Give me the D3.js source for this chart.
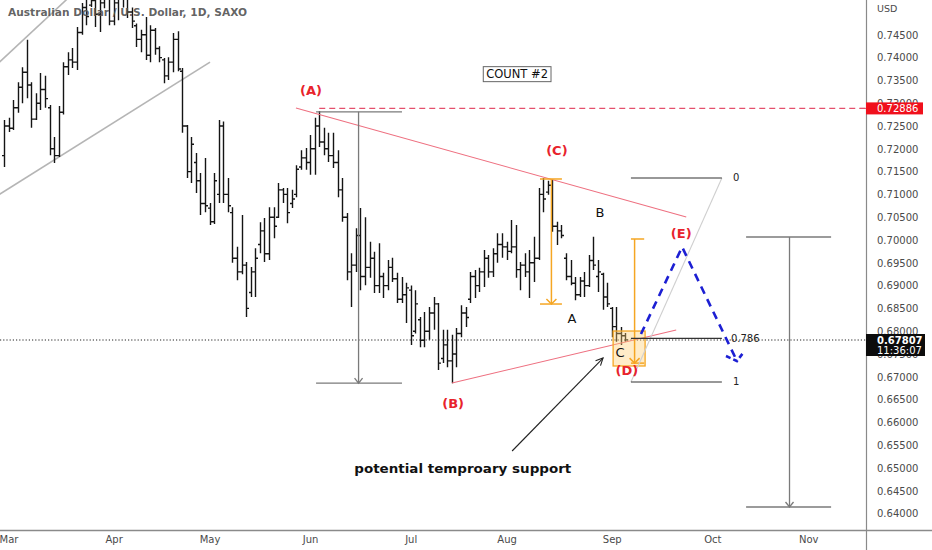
<!DOCTYPE html>
<html><head><meta charset="utf-8">
<script src="https://cdn.jsdelivr.net/npm/d3@7"></script>
<style>html,body{margin:0;padding:0;background:#fff;}svg{display:block;font-family:"DejaVu Sans",Verdana,sans-serif;}</style>
</head><body><svg id="c" width="932" height="550"></svg>
<script>
// ---- data: AUD/USD daily OHLC, trading-day index (0 = 1 Mar) ----
const firstIndex = -1;
const opens  = [.7185,.7250,.7245,.7290,.7335,.7368,.7340,.7265,.7300,.7330,.7290,.7200,.7185,.7280,.7380,.7395,.7390,.7455,.7510,.7515,.7525,.7495,.7520,.7530,.7480,.7520,.7550,.7580,.7500,.7470,.7440,.7450,.7405,.7460,.7420,.7395,.7360,.7390,.7440,.7370,.7250,.7150,.7170,.7130,.7080,.7070,.7040,.7100,.7250,.7100,.7060,.6960,.6930,.6945,.6885,.6930,.6990,.7020,.6970,.7050,.7050,.7110,.7100,.7080,.7100,.7160,.7180,.7170,.7200,.7250,.7215,.7200,.7185,.7170,.7110,.7050,.6930,.6945,.7010,.6920,.6940,.6960,.6900,.6920,.6900,.6940,.6915,.6870,.6880,.6890,.6800,.6825,.6780,.6800,.6840,.6860,.6740,.6770,.6735,.6750,.6795,.6840,.6870,.6920,.6900,.6930,.6960,.6930,.6970,.6990,.6985,.6975,.6985,.6935,.6945,.6930,.6950,.6960,.7100,.7105,.7120,.7030,.7020,.6960,.6920,.6905,.6880,.6910,.6900,.6955,.6920,.6925,.6875,.6850,.6810,.6795,.6790];
const highs  = [.7263,.7268,.7307,.7346,.7379,.7439,.7346,.7322,.7366,.7360,.7296,.7226,.7294,.7390,.7412,.7421,.7467,.7520,.7535,.7545,.7530,.7540,.7550,.7545,.7540,.7560,.7661,.7590,.7510,.7475,.7461,.7489,.7471,.7465,.7425,.7399,.7401,.7454,.7458,.7377,.7252,.7226,.7191,.7147,.7180,.7081,.7147,.7263,.7260,.7136,.7072,.6985,.7055,.6952,.6941,.6982,.7039,.7048,.7072,.7072,.7125,.7114,.7114,.7110,.7164,.7197,.7202,.7230,.7268,.7283,.7246,.7235,.7235,.7197,.7136,.7059,.6971,.7026,.7070,.7050,.6996,.6974,.6993,.6928,.6956,.6961,.6928,.6919,.6906,.6900,.6890,.6831,.6842,.6853,.6875,.6862,.6803,.6803,.6792,.6807,.6857,.6853,.6930,.6934,.6939,.6978,.6967,.6982,.7015,.7015,.6996,.7044,.7033,.6952,.6971,.6978,.7007,.7114,.7136,.7130,.7132,.7040,.7033,.6971,.6956,.6919,.6919,.6930,.6967,.7007,.6956,.6928,.6906,.6853,.6853,.6809,.6796];
const lows   = [.7160,.7237,.7241,.7279,.7300,.7311,.7246,.7263,.7285,.7290,.7186,.7169,.7182,.7275,.7362,.7377,.7373,.7450,.7471,.7511,.7467,.7456,.7508,.7471,.7471,.7482,.7510,.7487,.7465,.7423,.7412,.7395,.7390,.7406,.7390,.7344,.7351,.7368,.7370,.7235,.7136,.7125,.7103,.7055,.7061,.7033,.7035,.7081,.7081,.7061,.6950,.6912,.6925,.6831,.6875,.6875,.6971,.6952,.6956,.7004,.7048,.7081,.7037,.7070,.7094,.7154,.7154,.7143,.7143,.7204,.7186,.7171,.7158,.7094,.7040,.6912,.6853,.6930,.6890,.6901,.6917,.6884,.6884,.6873,.6890,.6908,.6862,.6862,.6818,.6770,.6795,.6765,.6765,.6781,.6803,.6715,.6730,.6721,.6686,.6721,.6787,.6809,.6862,.6873,.6886,.6897,.6917,.6919,.6950,.6961,.6956,.6971,.6917,.6890,.6919,.6873,.6908,.6956,.7061,.7099,.7018,.6989,.7004,.6912,.6901,.6868,.6875,.6875,.6897,.6934,.6886,.6847,.6853,.6787,.6777,.6770,.6777];
const closes = [.7250,.7245,.7290,.7335,.7368,.7340,.7265,.7300,.7330,.7310,.7200,.7185,.7280,.7380,.7395,.7390,.7455,.7510,.7490,.7525,.7495,.7520,.7530,.7480,.7520,.7550,.7580,.7500,.7480,.7440,.7450,.7405,.7460,.7420,.7400,.7360,.7390,.7440,.7375,.7250,.7150,.7210,.7130,.7080,.7075,.7040,.7130,.7250,.7100,.7075,.6960,.6930,.6945,.6850,.6930,.6960,.7020,.6970,.7050,.7030,.7110,.7100,.7060,.7090,.7155,.7180,.7170,.7200,.7250,.7215,.7200,.7185,.7170,.7110,.7050,.6930,.6945,.7010,.6920,.6940,.6960,.6900,.6920,.6900,.6940,.6915,.6870,.6880,.6895,.6790,.6860,.6780,.6800,.6840,.6860,.6730,.6770,.6735,.6750,.6795,.6840,.6830,.6920,.6900,.6930,.6960,.6930,.6970,.6990,.6985,.6975,.6985,.6935,.6945,.6930,.6950,.6960,.7100,.7090,.7120,.7030,.7020,.7010,.6920,.6905,.6880,.6910,.6900,.6955,.6945,.6930,.6875,.6860,.6810,.6795,.6790,.6781];
const lastPrice = 0.67807;
const countdown = "11:36:07";
const markedLevel = 0.72886;

const monthLabels = ["Mar","Apr","May","Jun","Jul","Aug","Sep","Oct","Nov"];
const monthIndex  = [0,23,44,66,88,109,132,154,175];
const priceTicks  = [0.640,0.645,0.650,0.655,0.660,0.665,0.670,0.675,0.680,0.685,0.690,0.695,0.700,0.705,0.710,0.715,0.720,0.725,0.730,0.735,0.740,0.745];

// annotation anchors in data units [trading-day index, price]
const channelUpper = [[-2,0.7390],[13,0.7530]];
const channelLower = [[-2,0.7100],[44.1,0.7390]];
const triangleTop  = [[62.9,0.72895],[148.3,0.70504]];
const triangleBot  = [[97.05,0.66864],[146.1,0.68026]];
const measureA = {i0:67.3,i1:86.1,im:76.6,top:0.7281,bot:0.6686};
const measureR = {i0:161.4,i1:180.0,im:170.9,top:0.70066,bot:0.64145};
const bracketC = {i0:116.3,i1:121.1,im:118.8,top:0.71338,bot:0.68596};
const bracket2 = {i0:136.2,i1:139.1,im:137.0,top:0.70022,bot:0.6730};
const boxD = {i0:132.3,i1:139.3,top:0.68004,bot:0.67237};
const fibLevels = [0,0.786,1];
const fib = {i0:136.2,i1:156.1,p0:0.71360,p1:0.66886};
const bluePath = [[138.4,0.67939],[147.4,0.69846],[159.4,0.67346]];
const blueHead = [[157.0,0.67456],[159.4,0.67346],[160.9,0.67544]];
const supportArrow = [[110.2,0.65373],[130.1,0.67412]];
const waveLabels = [
  {t:"(A)",i:66.2,p:0.7329,red:true},{t:"(C)",i:120.0,p:0.71974,red:true},
  {t:"(B)",i:97.3,p:0.66425,red:true},{t:"(D)",i:135.3,p:0.67149,red:true},
  {t:"(E)",i:147.2,p:0.70154,red:true},
  {t:"B",i:129.4,p:0.70614,red:false},{t:"A",i:123.3,p:0.68289,red:false},{t:"C",i:133.8,p:0.67544,red:false}
];
const countLabel = {t:"COUNT #2",i:111.3,p:0.7364};
const supportLabel = {t:"potential temproary support",i:99.4,p:0.64978};
const title = "Australian Dollar / U.S. Dollar, 1D, SAXO";

// ---- drawing ----
const svg = d3.select("#c");
const PR = 866, PB = 530;
const x = d3.scaleLinear().domain([0,175]).range([8.5,808.25]);
const y = d3.scaleLinear().domain([0.64,0.745]).range([513.6,34.8]);
const P = d => [x(d[0]), y(d[1])];
const line = d3.line().x(d=>x(d[0])).y(d=>y(d[1]));

svg.append("rect").attr("width",932).attr("height",550).attr("fill","#fff");
svg.append("defs").append("clipPath").attr("id","plot").append("rect").attr("width",PR).attr("height",PB);
const g = svg.append("g").attr("clip-path","url(#plot)");

// channel lines
[channelUpper,channelLower].forEach(l=>g.append("path").attr("d",line(l)).attr("fill","none").attr("stroke","#b5b5b5").attr("stroke-width",1.6));

// bars
const bars = opens.map((o,k)=>({i:firstIndex+k,o,h:highs[k],l:lows[k],c:closes[k]}));
g.append("path").attr("fill","none").attr("stroke","#141414").attr("stroke-width",1.4)
 .attr("d", bars.map(b=>{const cx=Math.round(x(b.i))+0.5;
   return `M${cx},${y(b.h)}V${y(b.l)}M${cx-2.5},${y(b.o)}H${cx}M${cx},${y(b.c)}H${cx+2.5}`;}).join(""));

// last price dotted line
g.append("line").attr("x1",0).attr("x2",PR).attr("y1",y(lastPrice)).attr("y2",y(lastPrice))
 .attr("stroke","#222").attr("stroke-width",1).attr("stroke-dasharray","1.2,2");

// red dashed level
g.append("line").attr("x1",x(68)).attr("x2",PR).attr("y1",y(markedLevel)).attr("y2",y(markedLevel))
 .attr("stroke","#e4506c").attr("stroke-width",1.2).attr("stroke-dasharray","6,4");

// triangle lines
[triangleTop,triangleBot].forEach(l=>g.append("path").attr("d",line(l)).attr("fill","none").attr("stroke","#ee7080").attr("stroke-width",1.1));

// measure tools (gray)
function measure(m,color,w,capW){
  const gg=g.append("g").attr("stroke",color).attr("stroke-width",w).attr("fill","none");
  gg.append("line").attr("x1",x(m.i0)).attr("x2",x(m.i1)).attr("y1",y(m.top)).attr("y2",y(m.top));
  gg.append("line").attr("x1",x(m.i0)).attr("x2",x(m.i1)).attr("y1",y(m.bot)).attr("y2",y(m.bot));
  gg.append("line").attr("x1",x(m.im)).attr("x2",x(m.im)).attr("y1",y(m.top)).attr("y2",y(m.bot));
  const ax=x(m.im), ay=y(m.bot);
  gg.append("path").attr("d",`M${ax-capW},${ay-5}L${ax},${ay}L${ax+capW},${ay-5}`);
}
measure(measureA,"#7a7a7a",1.3,4);
measure(measureR,"#7a7a7a",1.3,4);

// orange box D
g.append("rect").attr("x",x(boxD.i0)).attr("y",y(boxD.top)).attr("width",x(boxD.i1)-x(boxD.i0)).attr("height",y(boxD.bot)-y(boxD.top))
 .attr("fill","rgba(255,205,110,0.38)").attr("stroke","#f5a623").attr("stroke-width",1.3);
measure(bracketC,"#f5a623",1.5,5);
measure(bracket2,"#f5a623",1.5,5);

// fib
const fibP = l => fib.p0 + (fib.p1-fib.p0)*l;
g.append("line").attr("x1",x(fib.i0)).attr("y1",y(fib.p1)).attr("x2",x(fib.i1)).attr("y2",y(fib.p0)).attr("stroke","#cfcfcf").attr("stroke-width",1.1);
fibLevels.forEach(l=>{
  g.append("line").attr("x1",x(fib.i0)).attr("x2",x(fib.i1)).attr("y1",y(fibP(l))).attr("y2",y(fibP(l))).attr("stroke","#333").attr("stroke-width",1.1);
  g.append("text").attr("x",x(fib.i1)+(l===0.786?9:11)).attr("y",y(fibP(l))).attr("dy","0.35em")
   .attr("font-size",10).attr("fill","#222").text(l===0.786?"0.786":String(l));
});

// blue projection
g.append("path").attr("d",line(bluePath)).attr("fill","none").attr("stroke","#1c1fd3").attr("stroke-width",2.6).attr("stroke-dasharray","8,6");
g.append("path").attr("d",line(blueHead)).attr("fill","none").attr("stroke","#1c1fd3").attr("stroke-width",2.6).attr("stroke-dasharray","5,3");

// support arrow
{const a=P(supportArrow[0]), b=P(supportArrow[1]);
 g.append("line").attr("x1",a[0]).attr("y1",a[1]).attr("x2",b[0]).attr("y2",b[1]).attr("stroke","#222").attr("stroke-width",1.1);
 const ang=Math.atan2(b[1]-a[1],b[0]-a[0]), L=8;
 g.append("path").attr("fill","none").attr("stroke","#222").attr("stroke-width",1.1)
  .attr("d",`M${b[0]-L*Math.cos(ang-0.45)},${b[1]-L*Math.sin(ang-0.45)}L${b[0]},${b[1]}L${b[0]-L*Math.cos(ang+0.45)},${b[1]-L*Math.sin(ang+0.45)}`);}

// wave labels
waveLabels.forEach(w=>g.append("text").attr("x",x(w.i)).attr("y",y(w.p)).attr("dy","0.36em").attr("text-anchor","middle")
  .attr("font-size",w.red?13:13).attr("font-weight",w.red?"bold":"normal").attr("fill",w.red?"#e8232c":"#111").text(w.t));

// count box
{const t=g.append("text").attr("x",x(countLabel.i)).attr("y",y(countLabel.p)).attr("dy","0.36em").attr("text-anchor","middle")
  .attr("font-size",11.5).attr("fill","#111").text(countLabel.t);
 const bb=t.node().getBBox();
 g.insert("rect","text").attr("x",bb.x-3).attr("y",bb.y-0.5).attr("width",bb.width+6).attr("height",bb.height+1).attr("fill","#fff").attr("stroke","#666").attr("stroke-width",1);}

g.append("text").attr("x",x(supportLabel.i)).attr("y",y(supportLabel.p)).attr("dy","0.36em").attr("text-anchor","middle")
 .attr("font-size",11.5).attr("font-weight","bold").attr("fill","#111").attr("textLength",217).attr("lengthAdjust","spacingAndGlyphs").text(supportLabel.t);

// title
svg.append("text").attr("x",8).attr("y",15.5).attr("font-size",11).attr("font-weight","bold").attr("fill","#555").attr("fill-opacity",0.92)
 .attr("textLength",239).attr("lengthAdjust","spacingAndGlyphs").text(title);

// axes
const ya = svg.append("g").attr("transform",`translate(${PR},0)`)
 .call(d3.axisRight(y).tickValues(priceTicks).tickFormat(d3.format(".5f")).tickSize(0).tickPadding(11));
ya.select(".domain").remove();
ya.selectAll("text").attr("font-size",10).attr("fill","#4a4a4a").attr("font-family","DejaVu Sans, sans-serif");
svg.append("text").attr("x",877).attr("y",9).attr("dy","0.35em").attr("font-size",9.5).attr("fill","#4a4a4a").text("USD");

const xa = svg.append("g").attr("transform",`translate(0,${PB})`)
 .call(d3.axisBottom(x).tickValues(monthIndex).tickFormat((d,k)=>monthLabels[k]).tickSize(0).tickPadding(6));
xa.select(".domain").remove();
xa.selectAll("text").attr("font-size",10).attr("fill","#4a4a4a").attr("font-family","DejaVu Sans, sans-serif");

svg.append("line").attr("x1",PR+0.5).attr("x2",PR+0.5).attr("y1",0).attr("y2",550).attr("stroke","#8a8a8a").attr("stroke-width",1.2);
svg.append("line").attr("x1",0).attr("x2",932).attr("y1",PB+0.5).attr("y2",PB+0.5).attr("stroke","#8a8a8a").attr("stroke-width",1.4);

// price tags on axis
{const yy=y(markedLevel);
 svg.append("line").attr("x1",PR-6).attr("x2",PR).attr("y1",yy).attr("y2",yy).attr("stroke","#e4506c");
 svg.append("rect").attr("x",PR).attr("y",yy-6).attr("width",57).attr("height",12).attr("fill","#f0101c");
 svg.append("text").attr("x",877).attr("y",yy).attr("dy","0.36em").attr("font-size",10).attr("fill","#fff").text(d3.format(".5f")(markedLevel));}
{const yy=y(lastPrice);
 svg.append("rect").attr("x",PR).attr("y",yy-6).attr("width",59).attr("height",22).attr("fill","#0c0c0c");
 svg.append("text").attr("x",877).attr("y",yy).attr("dy","0.36em").attr("font-size",10).attr("font-weight","bold").attr("fill","#fff").text(d3.format(".5f")(lastPrice));
 svg.append("text").attr("x",877).attr("y",yy+10.5).attr("dy","0.36em").attr("font-size",10).attr("fill","#fff").text(countdown);}
</script></body></html>
